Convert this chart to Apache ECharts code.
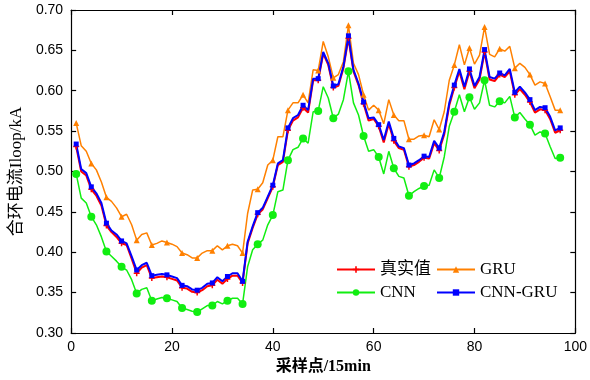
<!DOCTYPE html>
<html>
<head>
<meta charset="utf-8">
<script src="https://cdn.jsdelivr.net/npm/echarts@6/dist/echarts.min.js"></script>
<style>
  html, body { margin: 0; padding: 0; background: #fff; }
  #main { width: 590px; height: 380px; }
</style>
</head>
<body>
<div id="main"></div>
<script>
// 采样点 1..97, 每3个点画一个标记
var startIndex = 1;
var markerStep = 3;

// 真实值
var realVals = [
  0.531, 0.500, 0.495, 0.478, 0.470, 0.458, 0.433, 0.425, 0.419, 0.411,
  0.409, 0.392, 0.374, 0.381, 0.384, 0.368, 0.369, 0.370, 0.369, 0.367,
  0.365, 0.356, 0.355, 0.351, 0.350, 0.353, 0.358, 0.359, 0.366, 0.361,
  0.367, 0.371, 0.371, 0.362, 0.411, 0.430, 0.447, 0.453, 0.467, 0.481,
  0.508, 0.512, 0.551, 0.563, 0.567, 0.579, 0.573, 0.613, 0.613, 0.646,
  0.632, 0.604, 0.606, 0.628, 0.665, 0.624, 0.607, 0.584, 0.563, 0.565,
  0.556, 0.536, 0.559, 0.538, 0.529, 0.527, 0.506, 0.508, 0.512, 0.517,
  0.516, 0.535, 0.526, 0.546, 0.582, 0.604, 0.624, 0.602, 0.624, 0.603,
  0.614, 0.648, 0.614, 0.612, 0.620, 0.617, 0.624, 0.595, 0.602, 0.595,
  0.586, 0.573, 0.577, 0.576, 0.565, 0.548, 0.551
];
// GRU
var gruVals = [
  0.560, 0.532, 0.525, 0.510, 0.502, 0.487, 0.468, 0.463, 0.455, 0.444,
  0.447, 0.434, 0.415, 0.422, 0.424, 0.409, 0.411, 0.414, 0.412, 0.410,
  0.407, 0.399, 0.397, 0.393, 0.393, 0.399, 0.402, 0.402, 0.408, 0.403,
  0.408, 0.410, 0.408, 0.399, 0.448, 0.477, 0.478, 0.486, 0.508, 0.514,
  0.543, 0.543, 0.576, 0.585, 0.585, 0.595, 0.585, 0.626, 0.625, 0.661,
  0.642, 0.616, 0.620, 0.636, 0.681, 0.634, 0.620, 0.595, 0.576, 0.582,
  0.576, 0.559, 0.589, 0.570, 0.563, 0.563, 0.540, 0.540, 0.544, 0.545,
  0.543, 0.564, 0.552, 0.574, 0.613, 0.632, 0.657, 0.632, 0.653, 0.633,
  0.644, 0.679, 0.645, 0.642, 0.652, 0.649, 0.655, 0.628, 0.634, 0.629,
  0.620, 0.607, 0.611, 0.609, 0.593, 0.576, 0.576
];
// CNN
var cnnVals = [
  0.497, 0.467, 0.461, 0.444, 0.434, 0.419, 0.401, 0.395, 0.389, 0.382,
  0.378, 0.366, 0.349, 0.354, 0.356, 0.340, 0.342, 0.344, 0.343, 0.341,
  0.339, 0.331, 0.329, 0.327, 0.326, 0.330, 0.334, 0.334, 0.339, 0.336,
  0.340, 0.343, 0.343, 0.336, 0.382, 0.403, 0.410, 0.415, 0.434, 0.446,
  0.475, 0.477, 0.514, 0.527, 0.530, 0.541, 0.535, 0.574, 0.575, 0.605,
  0.591, 0.566, 0.571, 0.589, 0.624, 0.585, 0.570, 0.544, 0.525, 0.527,
  0.518, 0.497, 0.525, 0.504, 0.494, 0.492, 0.470, 0.475, 0.479, 0.482,
  0.483, 0.502, 0.492, 0.518, 0.556, 0.574, 0.595, 0.574, 0.592, 0.577,
  0.585, 0.613, 0.582, 0.580, 0.587, 0.585, 0.593, 0.567, 0.573, 0.565,
  0.558, 0.545, 0.549, 0.547, 0.531, 0.516, 0.517
];
// CNN-GRU
var cnnGruVals = [
  0.534, 0.503, 0.498, 0.481, 0.473, 0.461, 0.436, 0.427, 0.422, 0.414,
  0.411, 0.395, 0.378, 0.384, 0.387, 0.371, 0.372, 0.373, 0.372, 0.370,
  0.368, 0.359, 0.358, 0.354, 0.353, 0.356, 0.361, 0.362, 0.369, 0.364,
  0.370, 0.374, 0.374, 0.364, 0.413, 0.432, 0.449, 0.455, 0.469, 0.483,
  0.510, 0.514, 0.554, 0.566, 0.570, 0.582, 0.576, 0.615, 0.615, 0.648,
  0.634, 0.606, 0.608, 0.630, 0.668, 0.626, 0.609, 0.586, 0.566, 0.567,
  0.558, 0.539, 0.562, 0.541, 0.531, 0.529, 0.508, 0.510, 0.514, 0.519,
  0.518, 0.538, 0.529, 0.549, 0.585, 0.607, 0.627, 0.605, 0.627, 0.606,
  0.617, 0.651, 0.617, 0.615, 0.622, 0.619, 0.627, 0.598, 0.605, 0.598,
  0.589, 0.576, 0.580, 0.579, 0.568, 0.551, 0.554
];

var xTicks = [0, 20, 40, 60, 80, 100];
var yTicks = [0.30, 0.35, 0.40, 0.45, 0.50, 0.55, 0.60, 0.65, 0.70];

var serif = '"Times New Roman", "Liberation Serif", "Noto Sans CJK SC", serif';
var sans = 'Arial, "Liberation Sans", sans-serif';

// 只在每3个点上显示标记
function buildData(vals) {
  return vals.map(function (v, i) {
    var item = { value: [i + startIndex, v] };
    if (i % markerStep !== 0) item.symbol = 'none';
    return item;
  });
}

var chart = echarts.init(document.getElementById('main'));

var axisLineStyle = { color: '#000', width: 1.2 };
var legendText = { fontFamily: serif, fontSize: 17, color: '#000' };

var option = {
  backgroundColor: '#fff',
  animation: false,
  grid: { left: 66, right: 14, top: 10, bottom: 45 },
  legend: [
    {
      data: ['真实值', 'CNN'],
      orient: 'vertical',
      left: 331, top: 256,
      itemWidth: 38, itemHeight: 8, itemGap: 6,
      textStyle: legendText
    },
    {
      data: ['GRU', 'CNN-GRU'],
      orient: 'vertical',
      left: 431, top: 256,
      itemWidth: 38, itemHeight: 8, itemGap: 6,
      textStyle: legendText
    }
  ],
  xAxis: [
    {
      type: 'value', min: xTicks[0], max: xTicks[xTicks.length - 1], interval: 20,
      name: '采样点/15min', nameLocation: 'middle', nameGap: 26,
      nameTextStyle: { fontFamily: serif, fontSize: 16, color: '#000', fontWeight: 'bold' },
      axisLine: { show: true, lineStyle: axisLineStyle },
      axisTick: { show: true, inside: true, length: 5, lineStyle: axisLineStyle },
      axisLabel: { margin: 7, fontFamily: sans, fontSize: 14, color: '#000' },
      splitLine: { show: false }
    },
    {
      type: 'value', position: 'top', min: xTicks[0], max: xTicks[xTicks.length - 1], interval: 20,
      axisLine: { show: true, onZero: false, lineStyle: axisLineStyle },
      axisTick: { show: true, inside: true, length: 5, lineStyle: axisLineStyle },
      axisLabel: { show: false },
      splitLine: { show: false }
    }
  ],
  yAxis: [
    {
      type: 'value', min: yTicks[0], max: yTicks[yTicks.length - 1], interval: 0.05,
      name: '合环电流Iloop/kA', nameLocation: 'middle', nameGap: 44,
      nameTextStyle: { fontFamily: serif, fontSize: 17, color: '#000' },
      axisLine: { show: true, lineStyle: axisLineStyle },
      axisTick: { show: true, inside: true, length: 5, lineStyle: axisLineStyle },
      axisLabel: {
        margin: 8, fontFamily: sans, fontSize: 14, color: '#000',
        formatter: function (v) { return v.toFixed(2); }
      },
      splitLine: { show: false }
    },
    {
      type: 'value', position: 'right', min: yTicks[0], max: yTicks[yTicks.length - 1], interval: 0.05,
      axisLine: { show: true, onZero: false, lineStyle: axisLineStyle },
      axisTick: { show: true, inside: true, length: 5, lineStyle: axisLineStyle },
      axisLabel: { show: false },
      splitLine: { show: false }
    }
  ],
  series: [
    {
      name: '真实值', type: 'line', data: buildData(realVals),
      symbol: 'path://M3,0h2v3h3v2h-3v3h-2v-3h-3v-2h3z', symbolSize: 6,
      itemStyle: { color: '#ff0000' }, lineStyle: { color: '#ff0000', width: 2 }
    },
    {
      name: 'GRU', type: 'line', data: buildData(gruVals),
      symbol: 'triangle', symbolSize: 6,
      itemStyle: { color: '#ff8000' }, lineStyle: { color: '#ff8000', width: 1.5 }
    },
    {
      name: 'CNN', type: 'line', data: buildData(cnnVals),
      symbol: 'circle', symbolSize: 8,
      itemStyle: { color: '#11ee11' }, lineStyle: { color: '#11ee11', width: 1.5 }
    },
    {
      name: 'CNN-GRU', type: 'line', data: buildData(cnnGruVals),
      symbol: 'rect', symbolSize: 5,
      itemStyle: { color: '#0000ff' }, lineStyle: { color: '#0000ff', width: 2 }
    }
  ]
};

chart.setOption(option);
</script>
</body>
</html>
